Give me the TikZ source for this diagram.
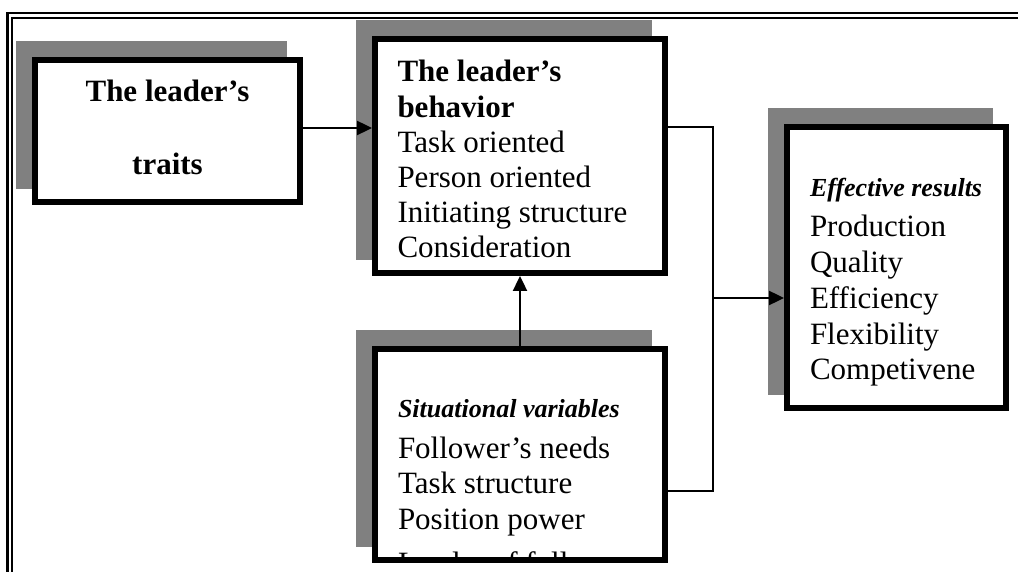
\documentclass[tikz,border=0pt]{standalone}
\usepackage{fontspec}
\setmainfont{Liberation Serif}
\usetikzlibrary{arrows.meta,backgrounds}
\definecolor{shadowgray}{HTML}{808080}
\begin{document}
\begin{tikzpicture}[x=1pt,y=-1pt,
  box/.style={draw=black, line width=6pt, fill=white, inner sep=0pt},
  shadowfill/.style={fill=shadowgray},
  txt/.style={inner sep=0pt, outer sep=0pt, font=\fontsize{31}{35.2}\selectfont},
  conn/.style={draw=black, line width=2.4pt},
  arr/.style={conn, -{Triangle[length=15pt,width=14pt]}},
  frame/.style={draw=black, line width=2.2pt}
]
\useasboundingbox (0,0) rectangle (1018,572);

% outer page frame (double line)
\draw[frame] (7.5,572) -- (7.5,13) -- (1018,13);
\draw[frame, line width=1.9pt] (12,572) -- (12,18) -- (1018,18);

% boxes
\node[box, minimum width=265pt, minimum height=142pt] (traits) at (167.5,131) {};
\node[box, minimum width=290pt, minimum height=234pt] (behavior) at (520,156) {};
\node[box, minimum width=290pt, minimum height=211pt] (situational) at (520,454.5) {};
\node[box, minimum width=219pt, minimum height=281pt] (effective) at (896.5,267.5) {};

% page background and shadows
\begin{pgfonlayer}{background}
\fill[white] (0,0) rectangle (1018,572);
\foreach \b in {traits,behavior,situational,effective}{
  \fill[shadowfill] ([shift={(-16,-16)}]\b.north west) rectangle ([shift={(-16,-16)}]\b.south east);
}
\end{pgfonlayer}

% texts
\node[txt, anchor=base, font=\fontsize{31}{35.2}\selectfont\bfseries] (tr1) at (167.5,102) {The leader’s};
\node[txt, anchor=base, font=\fontsize{31}{35.2}\selectfont\bfseries] (tr2) at (167.5,175) {traits};

\node[txt, anchor=base west] (behtext) at (397.5,82) {\vtop{\baselineskip=35.2pt
  \hbox{\bfseries The leader’s}
  \hbox{\bfseries behavior}
  \hbox{Task oriented}
  \hbox{Person oriented}
  \hbox{Initiating structure}
  \hbox{Consideration}}};

\node[txt, anchor=base west] (efftext) at (810,197) {\vtop{\baselineskip=35.7pt
  \hbox{\fontsize{26}{26}\selectfont\bfseries\itshape Effective results}
  \vskip4.3pt
  \hbox{Production}
  \hbox{Quality}
  \hbox{Efficiency}
  \hbox{Flexibility}
  \hbox{Competivene}}};

\begin{scope}
\clip ([shift={(6,6)}]situational.north west) rectangle ([shift={(-6,-6)}]situational.south east);
\node[txt, anchor=base west] (sittext) at (398,417) {\vtop{\baselineskip=35.7pt
  \hbox{\fontsize{26}{26}\selectfont\bfseries\itshape Situational variables}
  \vskip5.3pt
  \hbox{Follower’s needs}
  \hbox{Task structure}
  \hbox{Position power}
  \vskip8pt
  \hbox{Leader of followers}}};
\end{scope}

% connectors
\coordinate (ya) at (0,128);
\coordinate (jtop) at (713,127);
\coordinate (jmid) at (713,298);
\coordinate (jbot) at (713,491);
\draw[arr] (traits.east |- ya) -- (behavior.west |- ya);
\draw[conn] (behavior.east |- jtop) -- (jtop) -- (jbot) -- (situational.east |- jbot);
\draw[arr] (jmid) -- (effective.west |- jmid);
\draw[arr] (situational.north) -- (behavior.south);
\end{tikzpicture}
\end{document}
